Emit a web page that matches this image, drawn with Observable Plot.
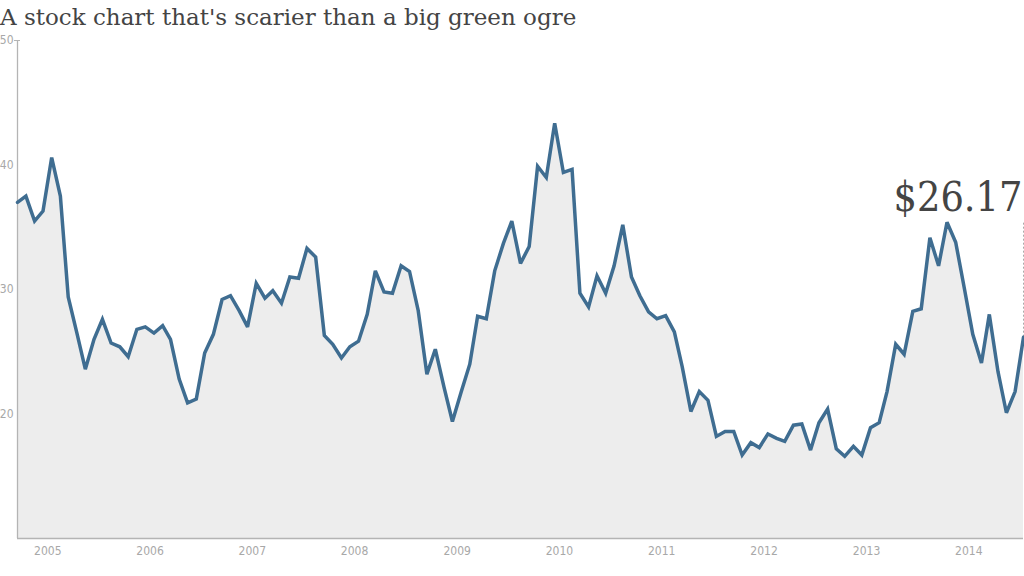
<!DOCTYPE html>
<html>
<head>
<meta charset="utf-8">
<script src="https://cdn.jsdelivr.net/npm/d3@7"></script>
<script src="https://cdn.jsdelivr.net/npm/@observablehq/plot@0.6"></script>
<style>
  html, body { margin: 0; padding: 0; background: #fff; }
  #title { font-family: "DejaVu Serif", serif; font-size: 23px; color: #444; height: 32px; line-height: 34px; white-space: nowrap; }
  #chart svg { display: block; overflow: visible; }
</style>
</head>
<body>
<div id="title">A stock chart that's scarier than a big green ogre</div>
<div id="chart"></div>
<script>
const title = "A stock chart that's scarier than a big green ogre";
const firstMonth = "2004-09-15";
const prices = [
  37.0, 37.5, 35.5, 36.3, 40.6, 37.5, 29.4, 26.5, 23.6, 26.0,
  27.6, 25.7, 25.4, 24.6, 26.8, 27.0, 26.5, 27.1, 26.0, 22.8,
  20.9, 21.2, 24.9, 26.4, 29.2, 29.5, 28.3, 27.0, 30.5, 29.3,
  29.9, 28.9, 31.0, 30.9, 33.3, 32.6, 26.3, 25.6, 24.5, 25.4,
  25.85, 28.0, 31.5, 29.8, 29.7, 31.9, 31.45, 28.3, 23.2, 25.2,
  22.15, 19.4, 21.75, 24.0, 27.85, 27.65, 31.5, 33.7, 35.5, 32.1,
  33.45, 39.9, 39.0, 43.35, 39.4, 39.65, 29.7, 28.6, 31.1, 29.7,
  31.9, 35.2, 31.0, 29.5, 28.2, 27.65, 27.9, 26.6, 23.8, 20.2,
  21.8, 21.1, 18.2, 18.6, 18.6, 16.7, 17.7, 17.3, 18.4, 18.05,
  17.8, 19.1, 19.2, 17.1, 19.3, 20.4, 17.2, 16.6, 17.4, 16.7,
  18.9, 19.3, 21.8, 25.6, 24.8, 28.25, 28.45, 34.15, 31.9, 35.4,
  33.8, 30.2, 26.4, 24.1, 28.0, 23.4, 20.1, 21.8, 26.17
];
const yTicks = [20, 30, 40, 50];
const yDomain = [10, 50];
const lastLabel = "$26.17";

const start = new Date(firstMonth);
const data = prices.map((v, i) => ({date: d3.utcMonth.offset(start, i), value: v}));
const last = data[data.length - 1];
const recentHigh = d3.max(data.slice(-12), d => d.value);

const chart = Plot.plot({
  width: 1024,
  height: 544,
  marginTop: 8,
  marginBottom: 38,
  marginLeft: 17,
  marginRight: 1,
  style: {fontFamily: "'DejaVu Sans Condensed', 'DejaVu Sans', sans-serif", fontSize: "12px", color: "#a8a8a8", background: "#fff"},
  x: {type: "utc", domain: [data[0].date, last.date]},
  y: {domain: yDomain},
  marks: [
    Plot.areaY(data, {x: "date", y1: yDomain[0], y2: "value", fill: "#ededed"}),
    Plot.ruleX([data[0].date], {y1: yDomain[0], y2: yDomain[1], stroke: "#b4b4b4", strokeWidth: 1.3}),
    Plot.ruleY([yDomain[0]], {stroke: "#b4b4b4", strokeWidth: 1.3}),
    Plot.axisY(yTicks, {tickSize: 0, tickPadding: 4, label: null, fill: "#a8a8a8"}),
    Plot.axisY([yDomain[1]], {tickSize: 6, dx: 3, tickFormat: () => "", label: null, stroke: "#b4b4b4"}),
    Plot.axisX({ticks: d3.utcYear.every(1), tickFormat: "%Y", tickSize: 0, tickPadding: 8, label: null, fill: "#a8a8a8"}),
    Plot.ruleX([last], {x: "date", y1: "value", y2: () => recentHigh, stroke: "#aaa", strokeDasharray: "2,2", strokeWidth: 1}),
    Plot.lineY(data, {x: "date", y: "value", stroke: "#3f6d91", strokeWidth: 3.5, strokeLinejoin: "miter", strokeMiterlimit: 3}),
    Plot.text([last], {x: "date", y: () => recentHigh, text: () => lastLabel, textAnchor: "end", lineAnchor: "bottom", dx: -1, dy: -11, fill: "#444", fontSize: 41, fontFamily: "'DejaVu Serif Condensed', 'DejaVu Serif', serif"})
  ]
});
document.getElementById("chart").appendChild(chart);
</script>
</body>
</html>
